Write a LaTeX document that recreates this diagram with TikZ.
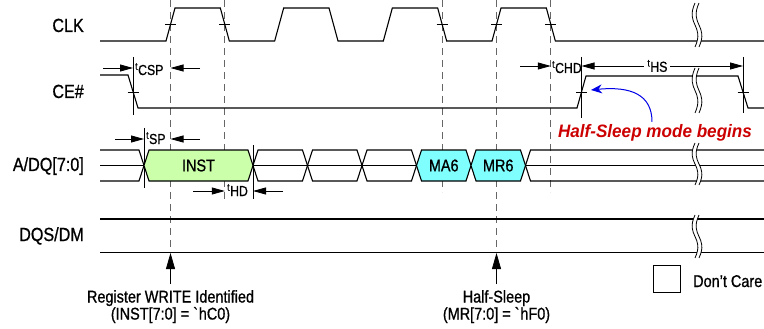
\documentclass[tikz,border=0pt]{standalone}
\usepackage{fontspec}
\setmainfont{Liberation Sans}[FakeStretch=0.85,FakeBold=0.8]
\newfontfamily\modefont{Liberation Sans}[FakeStretch=0.95]
\usetikzlibrary{arrows.meta}

\definecolor{instgreen}{RGB}{204,255,170}
\definecolor{regcyan}{RGB}{128,255,255}
\definecolor{modered}{RGB}{204,0,0}
\definecolor{modeblue}{RGB}{0,0,230}

\begin{document}
\begin{tikzpicture}[x=1pt,y=-1pt,>={Triangle[length=13pt,width=7pt]},
  sig/.style={line width=1.1pt,line join=miter},
  ref/.style={line width=0.8pt},
  guide/.style={black!60,line width=1pt,dash pattern=on 7pt off 5pt},
  lbl/.style={anchor=base east,inner sep=0pt,font=\fontsize{19}{19}\selectfont},
  tim/.style={anchor=base west,inner sep=0pt,font=\fontsize{14.5}{14.5}\selectfont},
  cell/.style={font=\fontsize{17}{17}\selectfont},
  note/.style={align=center,anchor=north,inner xsep=0pt,inner ysep=6pt,font=\fontsize{17}{15.5}\selectfont}]

\useasboundingbox (0,0) rectangle (764,329);

% The guides
\foreach \gx/\gy in {170.5/252.5, 224.8/202, 442.2/192, 496.5/252.5, 550.8/192}
	\draw[guide] (\gx,0) -- (\gx,\gy);

% The signal names
\node[lbl] (clk) at (84,32) {CLK};
\node[lbl] (ce) at (84,98) {CE\#};
\node[lbl] (adq) at (84,171) {A/DQ[7:0]};
\node[lbl] (dqs) at (84,241) {DQS/DM};

% The clock
\draw[sig] (100,41) \foreach \k in {0,...,3} { -- ({166+108.67*\k},41) -- ++(9,-33) -- ++(45.33,0) -- ++(9,33) } -- (764,41);
\foreach \gx in {170.5, 224.8, 442.2, 496.5, 550.8}
	\draw[ref] ({\gx-5.5},24.5) -- ({\gx+5.5},24.5);

% The chip enable
\draw[sig] (100,75) -- (128,75) -- (138,108) -- (577,108) -- (586,76) -- (738,76) -- (748,108) -- (764,108);
\foreach \gx/\ya/\yb in {133/57/115, 581.5/57/118, 743/57/113}
{
	\draw[ref] ({\gx-5.5},92) -- ({\gx+5.5},92);
	\draw[ref] (\gx,\ya) -- (\gx,\yb);
}

% The bus
\draw[ref] (144,128) -- (144,188);
\draw[ref] (253,145) -- (253,199);
\draw[sig] (100,150) -- (139,150) -- (144,165.5) -- (139,181) -- (100,181);
\draw[sig] (100,165.5) -- (144,165.5);
\foreach \a/\b/\col in {144/253/instgreen, 253/307.5/white, 307.5/362/white, 362/416.5/white, 416.5/471/regcyan, 471/525.5/regcyan}
	\draw[sig,fill=\col] (\a,165.5) -- ({\a+5},150) -- ({\b-5},150) -- (\b,165.5) -- ({\b-5},181) -- ({\a+5},181) -- cycle;
\draw[sig] (253,165.5) -- (416.5,165.5);
\draw[sig] (764,150) -- (530.5,150) -- (525.5,165.5) -- (530.5,181) -- (764,181);
\draw[sig] (525.5,165.5) -- (764,165.5);
\foreach \cx/\txt in {198.5/INST, 443.75/MA6, 498.25/MR6}
	\node[cell] (\txt) at (\cx,165.5) {\txt};

% The strobe
\draw[sig] (100,219) -- (764,219);
\draw[sig] (100,252.5) -- (764,252.5);

% The timings
\draw[ref,->] (103,68) -- (133,68);
\node[tim] (tcsp) at (135,75) {\textsuperscript{t}CSP};
\draw[ref,->] (200,68) -- (170.5,68);

\draw[ref,->] (115,139) -- (144,139);
\node[tim] (tsp) at (146,144) {\textsuperscript{t}SP};
\draw[ref,->] (200,139) -- (170.5,139);

\draw[ref,->] (193,191) -- (224.8,191);
\node[tim] (thd) at (227,196) {\textsuperscript{t}HD};
\draw[ref,->] (283,191) -- (253,191);

\draw[ref,->] (520,66) -- (550.8,66);
\node[tim] (tchd) at (552,73) {\textsuperscript{t}CHD};
\draw[ref,<->] (581.5,66) -- node[pos=0.47,fill=white,inner xsep=3pt,inner ysep=0pt,font=\fontsize{14.5}{14.5}\selectfont] (ths) {\textsuperscript{t}HS} (743,66);

% The breaks
\foreach \ya/\yb in {3/47, 68/113, 143/185, 215/258}
{
	\fill[white] (695,\ya) .. controls (685,{(\ya+\yb)/2}) and (705,{(\ya+\yb)/2}) .. (695,\yb)
		-- (699,\yb) .. controls (709,{(\ya+\yb)/2}) and (689,{(\ya+\yb)/2}) .. (699,\ya) -- cycle;
	\draw[ref] (695,\ya) .. controls (685,{(\ya+\yb)/2}) and (705,{(\ya+\yb)/2}) .. (695,\yb);
	\draw[ref] (699,\ya) .. controls (689,{(\ya+\yb)/2}) and (709,{(\ya+\yb)/2}) .. (699,\yb);
}

% Half-Sleep mode
\node[anchor=base,inner sep=2pt,text=modered,font=\modefont\fontsize{18}{18}\selectfont\bfseries\itshape] (hsmode) at (655,137) {Half-Sleep mode begins};
\coordinate (hsedge) at (591,90);
\draw[modeblue,line width=1pt,-{Stealth[length=11pt,width=9pt]}] ([xshift=-3pt]hsmode.north) .. controls +(0,-27) and +(40,-4) .. (hsedge);

% The events
\node[note] (regwrite) at (170.5,284) {Register WRITE Identified\\(INST[7:0] = \textasciigrave hC0)};
\coordinate (regmark) at (170.5,253);
\draw[ref,-{Triangle[length=16pt,width=9pt]}] (regwrite.north) -- (regmark);

\node[note] (halfsleep) at (496.5,284) {Half-Sleep\\(MR[7:0] = \textasciigrave hF0)};
\coordinate (hsmark) at (496.5,253);
\draw[ref,-{Triangle[length=16pt,width=9pt]}] (halfsleep.north) -- (hsmark);

% The legend
\node[draw,ref,minimum size=27pt,inner sep=0pt] (dcbox) at (666.5,278.5) {};
\node[anchor=base west,inner sep=0pt,font=\fontsize{17}{17}\selectfont] (dctext) at (693,287) {Don't Care};

\end{tikzpicture}
\end{document}
